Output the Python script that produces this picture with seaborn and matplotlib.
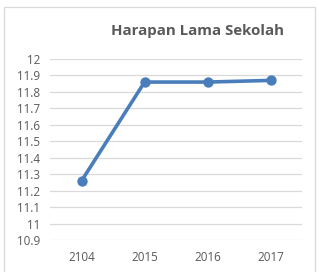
import pandas as pd
import seaborn as sns
import matplotlib.pyplot as plt

years = ["2104", "2015", "2016", "2017"]
values = [11.26, 11.86, 11.86, 11.87]
yticks = [10.9, 11, 11.1, 11.2, 11.3, 11.4, 11.5, 11.6, 11.7, 11.8, 11.9, 12]

sns.set_style("white")
plt.rcParams['font.family'] = ['Open Sans', 'DejaVu Sans']

df = pd.DataFrame({"year": years, "hls": values})

fig = plt.figure(figsize=(3.19, 2.72), dpi=100)
ax = fig.add_axes([0.157, 0.1176, 0.79, 0.6654])

sns.pointplot(data=df, x="year", y="hls", color="#4a7ebb", markers="o",
              linewidth=2.6, markersize=5.5, ax=ax)

ax.set_ylim(10.9, 12)
ax.set_xlim(-0.5, 3.5)
ax.set_yticks(yticks)
ax.set_yticklabels([f"{v:g}" for v in yticks])
ax.yaxis.grid(True, color="#d9d9d9", linewidth=0.9)
ax.set_axisbelow(True)
sns.despine(ax=ax, left=True, bottom=True)
ax.tick_params(axis="both", length=0, labelsize=8.4, labelcolor="#595959")
ax.tick_params(axis="x", pad=8)
ax.tick_params(axis="y", pad=7)
ax.set_xlabel("")
ax.set_ylabel("")

fig.text(0.62, 0.885, "Harapan Lama Sekolah", ha="center", va="center",
         fontsize=10.8, fontweight="bold", color="#595959")

fig.patches.append(plt.Rectangle((0.013, -0.01), 0.975, 0.985, transform=fig.transFigure,
                                 fill=False, edgecolor="#d9d9d9", linewidth=0.9))

fig.savefig("out.png", dpi=100)
